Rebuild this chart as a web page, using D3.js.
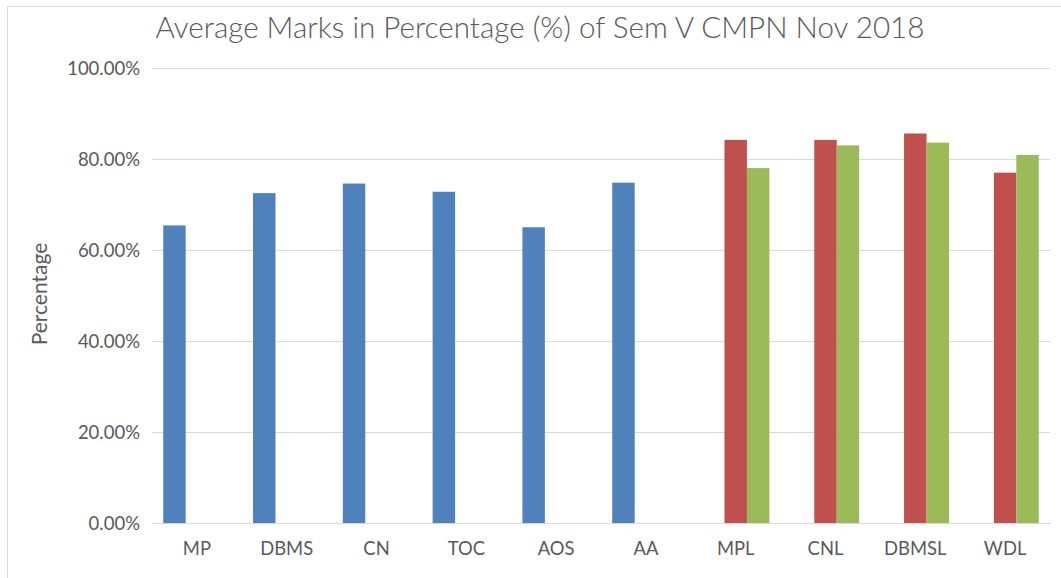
<!DOCTYPE html>
<html>
<head>
<meta charset="utf-8">
<script src="https://cdn.jsdelivr.net/npm/d3@7/dist/d3.min.js"></script>
<style>
  html, body { margin: 0; padding: 0; background: #fff; }
  svg { display: block; }
</style>
</head>
<body>
<svg id="chart" width="1061" height="578"></svg>
<script>
// ---- data ----
const categories = ["MP", "DBMS", "CN", "TOC", "AOS", "AA", "MPL", "CNL", "DBMSL", "WDL"];
const seriesNames = ["Theory", "Lab A", "Lab B"];
const theoryValues = [0.654, 0.725, 0.746, 0.728, 0.650, 0.748, null, null, null, null];
const labAValues   = [null, null, null, null, null, null, 0.842, 0.842, 0.856, 0.770];
const labBValues   = [null, null, null, null, null, null, 0.780, 0.830, 0.836, 0.809];
const yTicks = [0, 0.2, 0.4, 0.6, 0.8, 1.0];
const seriesColors = ["#4F81BD", "#C0504D", "#9BBB59"];
const titleText = "Average Marks in Percentage (%) of Sem V CMPN Nov 2018";
const yAxisTitle = "Percentage";

const seriesValues = [theoryValues, labAValues, labBValues];

const svg = d3.select("#chart");
const W = 1061, H = 578;
const margin = { left: 152, right: 11, top: 68, bottom: 55 };
const plotW = W - margin.left - margin.right;
const plotH = H - margin.top - margin.bottom;
const FONT = "Lato, 'Open Sans', sans-serif";

// chart area border (left & top visible)
svg.append("line").attr("x1", 7.5).attr("x2", 7.5).attr("y1", 6).attr("y2", H)
  .attr("stroke", "#d9d9d9").attr("stroke-width", 1);
svg.append("line").attr("x1", 7).attr("x2", W).attr("y1", 6.5).attr("y2", 6.5)
  .attr("stroke", "#d9d9d9").attr("stroke-width", 1);

const x0 = d3.scaleBand().domain(categories).range([0, plotW]).paddingInner(0.25).paddingOuter(0.125);
const x1 = d3.scaleBand().domain(seriesNames).range([0, x0.bandwidth()]);
const y = d3.scaleLinear().domain([0, 1]).range([plotH, 0]);

const g = svg.append("g").attr("transform", `translate(${margin.left},${margin.top})`);

// gridlines + y tick labels
const yAxis = d3.axisLeft(y).tickValues(yTicks).tickSize(-plotW).tickPadding(12)
  .tickFormat(d => (d * 100).toFixed(2) + "%");
const yg = g.append("g").call(yAxis);
yg.select(".domain").remove();
yg.selectAll(".tick line").attr("stroke", "#d9d9d9").attr("stroke-width", 1);
yg.selectAll(".tick text")
  .attr("fill", "#595959")
  .attr("dy", "0.36em")
  .style("font-family", FONT)
  .style("font-size", "18.5px");

// bars
const data = [];
categories.forEach((c, i) => {
  seriesNames.forEach((s, j) => {
    const v = seriesValues[j][i];
    if (v != null) data.push({ cat: c, series: s, value: v, color: seriesColors[j] });
  });
});
g.append("g").selectAll("rect").data(data).join("rect")
  .attr("x", d => x0(d.cat) + x1(d.series))
  .attr("width", x1.bandwidth())
  .attr("y", d => y(d.value))
  .attr("height", d => plotH - y(d.value))
  .attr("fill", d => d.color);

// x axis
const xAxis = d3.axisBottom(x0).tickSize(0).tickPadding(19);
const xg = g.append("g").attr("transform", `translate(0,${plotH})`).call(xAxis);
xg.select(".domain").attr("stroke", "#d9d9d9");
xg.selectAll(".tick text")
  .attr("fill", "#595959")
  .style("font-family", FONT)
  .style("font-size", "18.4px");

// title
svg.append("text")
  .attr("x", 540).attr("y", 38)
  .attr("text-anchor", "middle")
  .attr("fill", "#595959")
  .style("font-family", FONT)
  .style("font-weight", 300)
  .style("font-size", "29.6px")
  .text(titleText);

// y axis title
svg.append("text")
  .attr("transform", `translate(47,294) rotate(-90)`)
  .attr("text-anchor", "middle")
  .attr("fill", "#595959")
  .style("font-family", FONT)
  .style("font-size", "21px")
  .text(yAxisTitle);
</script>
</body>
</html>
